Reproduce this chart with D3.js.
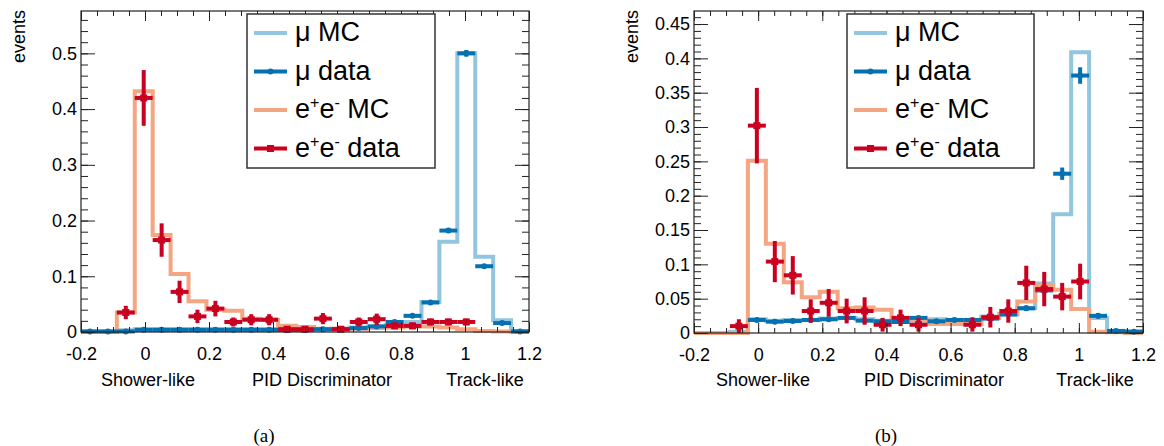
<!DOCTYPE html>
<html>
<head>
<meta charset="utf-8">
<script src="https://cdn.jsdelivr.net/npm/d3@7"></script>
<style>
  html, body { margin: 0; padding: 0; background: #fff; }
  svg { display: block; }
  text { font-family: "Liberation Sans", Arial, Helvetica, sans-serif; fill: #000; }
</style>
</head>
<body>
<svg id="chart" width="1164" height="446"></svg>
<script>
// PID discriminator bins (25 bins from -0.2 to 1.2)
const binEdges = [-0.2, -0.144, -0.088, -0.032, 0.024, 0.08, 0.136, 0.192, 0.248, 0.304,
  0.36, 0.416, 0.472, 0.528, 0.584, 0.64, 0.696, 0.752, 0.808, 0.864,
  0.92, 0.976, 1.032, 1.088, 1.144, 1.2];

const xTickValues = [-0.2, 0, 0.2, 0.4, 0.6, 0.8, 1, 1.2];
const xTickLabels = ["-0.2", "0", "0.2", "0.4", "0.6", "0.8", "1", "1.2"];

// Panel (a)
const muMC_a = [0.001, 0.001, 0.003, 0.005, 0.005, 0.005, 0.005, 0.005, 0.005, 0.005,
  0.005, 0.005, 0.005, 0.005, 0.006, 0.008, 0.010, 0.012, 0.018, 0.054,
  0.162, 0.500, 0.135, 0.021, 0.002];
const muData_a = [0.001, 0.001, 0.001, 0.004, 0.004, 0.004, 0.004, 0.004, 0.004, 0.004,
  0.004, 0.004, 0.004, 0.005, 0.005, 0.007, 0.010, 0.018, 0.029, 0.053,
  0.182, 0.500, 0.118, 0.016, 0.001];
const muErr_a = [0.001, 0.001, 0.001, 0.001, 0.001, 0.001, 0.001, 0.001, 0.001, 0.001,
  0.001, 0.001, 0.001, 0.001, 0.001, 0.001, 0.002, 0.002, 0.002, 0.003,
  0.004, 0.006, 0.003, 0.002, 0.001];
const eeMC_a = [0, 0, 0.035, 0.432, 0.174, 0.104, 0.055, 0.040, 0.038, 0.024,
  0.022, 0.011, 0.009, 0.006, 0.006, 0.006, 0.007, 0.008, 0.010, 0.010,
  0.008, 0.005, 0.002, 0.001, 0];
const eeData_a = [null, null, 0.035, 0.420, 0.165, 0.072, 0.028, 0.042, 0.018, 0.022,
  0.022, 0.005, 0.005, 0.024, 0.005, 0.018, 0.023, 0.011, 0.011, 0.018,
  0.018, 0.018, null, null, null];
const eeErr_a = [0, 0, 0.012, 0.050, 0.030, 0.020, 0.012, 0.014, 0.008, 0.010,
  0.010, 0.004, 0.004, 0.010, 0.004, 0.008, 0.010, 0.006, 0.006, 0.006,
  0.006, 0.006, 0, 0, 0];
const yTicks_a = [0, 0.1, 0.2, 0.3, 0.4, 0.5];
const yTickLabels_a = ["0", "0.1", "0.2", "0.3", "0.4", "0.5"];

// Panel (b)
const muMC_b = [0, 0, 0.002, 0.020, 0.018, 0.019, 0.019, 0.021, 0.022, 0.020,
  0.018, 0.018, 0.018, 0.020, 0.018, 0.019, 0.024, 0.027, 0.036, 0.072,
  0.173, 0.409, 0.022, 0.003, 0.002];
const muData_b = [null, null, null, 0.019, 0.0165, 0.0175, 0.019, 0.020, 0.022, 0.018,
  0.017, 0.016, 0.022, 0.017, 0.019, 0.019, 0.021, 0.027, 0.036, 0.062,
  0.232, 0.375, 0.025, 0.003, 0.002];
const muErr_b = [0, 0, 0, 0.003, 0.003, 0.003, 0.003, 0.003, 0.003, 0.003,
  0.003, 0.003, 0.003, 0.003, 0.003, 0.003, 0.003, 0.003, 0.004, 0.005,
  0.009, 0.012, 0.004, 0.001, 0.001];
const eeMC_b = [0, 0, 0, 0.251, 0.130, 0.074, 0.052, 0.060, 0.036, 0.037,
  0.034, 0.022, 0.019, 0.013, 0.013, 0.013, 0.022, 0.028, 0.046, 0.070,
  0.063, 0.035, 0.002, 0.001, 0];
const eeData_b = [null, null, 0.010, 0.302, 0.104, 0.084, 0.032, 0.044, 0.032, 0.032,
  0.012, 0.022, 0.012, null, null, 0.012, 0.023, 0.032, 0.073, 0.064,
  0.053, 0.075, null, null, null];
const eeErr_b = [0, 0, 0.010, 0.055, 0.030, 0.028, 0.017, 0.020, 0.018, 0.020,
  0.010, 0.012, 0.010, 0, 0, 0.010, 0.015, 0.017, 0.025, 0.025,
  0.020, 0.026, 0, 0, 0];
const yTicks_b = [0, 0.05, 0.1, 0.15, 0.2, 0.25, 0.3, 0.35, 0.4, 0.45];
const yTickLabels_b = ["0", "0.05", "0.1", "0.15", "0.2", "0.25", "0.3", "0.35", "0.4", "0.45"];

const colors = { muMC: "#92c5de", muData: "#0571b0", eeMC: "#f4a582", eeData: "#ca0020" };

const svg = d3.select("#chart");

function drawPanel(p) {
  const x = d3.scaleLinear().domain([-0.2, 1.2]).range([p.left, p.right]);
  const y = d3.scaleLinear().domain([0, p.yMax]).range([p.bottom, p.top]);
  const g = svg.append("g");

  // histogram outlines
  const step = d3.line().x(d => x(d[0])).y(d => y(d[1])).curve(d3.curveStepAfter);
  function hist(vals, color) {
    const pts = vals.map((v, i) => [binEdges[i], v]);
    pts.push([binEdges[binEdges.length - 1], vals[vals.length - 1]]);
    g.append("path").attr("d", step(pts)).attr("fill", "none")
      .attr("stroke", color).attr("stroke-width", 4).attr("stroke-linejoin", "miter");
  }
  function points(vals, errs, color, marker) {
    vals.forEach((v, i) => {
      if (v === null) return;
      const cx = x((binEdges[i] + binEdges[i + 1]) / 2);
      const gg = g.append("g");
      gg.append("line").attr("x1", x(binEdges[i])).attr("x2", x(binEdges[i + 1]))
        .attr("y1", y(v)).attr("y2", y(v)).attr("stroke", color).attr("stroke-width", 4);
      if (errs[i] > 0) {
        gg.append("line").attr("x1", cx).attr("x2", cx)
          .attr("y1", y(Math.max(0, v - errs[i]))).attr("y2", y(v + errs[i]))
          .attr("stroke", color).attr("stroke-width", 4);
      }
      if (marker === "circle") {
        gg.append("circle").attr("cx", cx).attr("cy", y(v)).attr("r", 3).attr("fill", color);
      } else {
        gg.append("rect").attr("x", cx - 3.5).attr("y", y(v) - 3.5)
          .attr("width", 7).attr("height", 7).attr("fill", color);
      }
    });
  }

  hist(p.muMC, colors.muMC);
  hist(p.eeMC, colors.eeMC);
  points(p.muData, p.muErr, colors.muData, "circle");
  points(p.eeData, p.eeErr, colors.eeData, "square");

  // axes: bottom/top with major + minor ticks, left/right likewise
  const xMinor = d3.range(-0.2, 1.2001, 0.05).map(v => +v.toFixed(3));
  const yMinor = d3.range(0, p.yMax, p.yMinorStep).map(v => +v.toFixed(4));

  const axes = g.append("g").attr("class", "axes");
  axes.append("g").attr("transform", `translate(0,${p.bottom})`)
    .call(d3.axisBottom(x).tickValues(xMinor).tickSize(-5).tickFormat(""));
  axes.append("g").attr("transform", `translate(0,${p.bottom})`)
    .call(d3.axisBottom(x).tickValues(xTickValues).tickSize(-10).tickPadding(15)
      .tickFormat((d, i) => xTickLabels[i]));
  axes.append("g").attr("transform", `translate(0,${p.top})`)
    .call(d3.axisTop(x).tickValues(xMinor).tickSize(-5).tickFormat(""));
  axes.append("g").attr("transform", `translate(0,${p.top})`)
    .call(d3.axisTop(x).tickValues(xTickValues).tickSize(-10).tickFormat(""));

  axes.append("g").attr("transform", `translate(${p.left},0)`)
    .call(d3.axisLeft(y).tickValues(yMinor).tickSize(-7).tickFormat(""));
  axes.append("g").attr("transform", `translate(${p.left},0)`)
    .call(d3.axisLeft(y).tickValues(p.yTicks).tickSize(-14).tickPadding(4)
      .tickFormat((d, i) => p.yTickLabels[i]));
  axes.append("g").attr("transform", `translate(${p.right},0)`)
    .call(d3.axisRight(y).tickValues(yMinor).tickSize(-7).tickFormat(""));
  axes.append("g").attr("transform", `translate(${p.right},0)`)
    .call(d3.axisRight(y).tickValues(p.yTicks).tickSize(-14).tickFormat(""));

  axes.selectAll(".domain").remove();
  axes.selectAll(".tick line").attr("stroke", "#222").attr("stroke-width", 1);
  axes.selectAll(".tick text").style("font-size", "18px")
    .style("font-family", '"Liberation Sans", Arial, sans-serif').attr("fill", "#000");

  // frame
  g.append("rect").attr("x", p.left).attr("y", p.top)
    .attr("width", p.right - p.left).attr("height", p.bottom - p.top)
    .attr("fill", "none").attr("stroke", "#222").attr("stroke-width", 1.2);

  // y title
  g.append("text").attr("transform", `translate(${p.yTitleX},${p.top - 1}) rotate(-90)`)
    .attr("text-anchor", "end").style("font-size", "18px").text("events");

  // x sub-titles
  const subY = 386;
  [["Shower-like", p.subX[0]], ["PID Discriminator", p.subX[1]], ["Track-like", p.subX[2]]]
    .forEach(([t, cx]) => {
      g.append("text").attr("x", cx).attr("y", subY).attr("text-anchor", "middle")
        .style("font-size", "18px").text(t);
    });

  // caption
  g.append("text").attr("x", p.captionX).attr("y", 442).attr("text-anchor", "middle")
    .style("font-family", '"Liberation Serif", "Times New Roman", serif')
    .style("font-size", "19px").text(p.caption);

  // legend
  const L = p.legend;
  const lg = g.append("g");
  lg.append("rect").attr("x", L.x).attr("y", L.y).attr("width", L.w).attr("height", L.h)
    .attr("fill", "#fff").attr("stroke", "#333").attr("stroke-width", 1.5);
  // each part: [text, superscript?]
  const entries = [
    { color: colors.muMC, marker: null, parts: [["μ MC", false]] },
    { color: colors.muData, marker: "circle", parts: [["μ data", false]] },
    { color: colors.eeMC, marker: null, parts: [["e", false], ["+", true], ["e", false], ["-", true], [" MC", false]] },
    { color: colors.eeData, marker: "square", parts: [["e", false], ["+", true], ["e", false], ["-", true], [" data", false]] }
  ];
  entries.forEach((e, i) => {
    const ly = L.y + 19 + i * 38.5;
    lg.append("line").attr("x1", L.x + 7).attr("x2", L.x + 40).attr("y1", ly).attr("y2", ly)
      .attr("stroke", e.color).attr("stroke-width", 4);
    if (e.marker === "circle") {
      lg.append("circle").attr("cx", L.x + 23.5).attr("cy", ly).attr("r", 3).attr("fill", e.color);
    } else if (e.marker === "square") {
      lg.append("rect").attr("x", L.x + 20).attr("y", ly - 3.5).attr("width", 7).attr("height", 7)
        .attr("fill", e.color);
    }
    const baseY = ly + 8;
    const t = lg.append("text").attr("x", L.x + 48).attr("y", baseY)
      .style("font-size", "27px");
    e.parts.forEach(([s, sup]) => {
      t.append("tspan").attr("y", sup ? baseY - 10 : baseY)
        .style("font-size", sup ? "16px" : "27px").text(s);
    });
  });
}

drawPanel({
  left: 81, right: 529, top: 11, bottom: 332, yMax: 0.576, yMinorStep: 0.02,
  yTicks: yTicks_a, yTickLabels: yTickLabels_a,
  muMC: muMC_a, muData: muData_a, muErr: muErr_a,
  eeMC: eeMC_a, eeData: eeData_a, eeErr: eeErr_a,
  yTitleX: 25, subX: [148, 322, 485], caption: "(a)", captionX: 264,
  legend: { x: 247, y: 14, w: 188, h: 154 }
});

drawPanel({
  left: 694, right: 1143, top: 11, bottom: 333, yMax: 0.469, yMinorStep: 0.01,
  yTicks: yTicks_b, yTickLabels: yTickLabels_b,
  muMC: muMC_b, muData: muData_b, muErr: muErr_b,
  eeMC: eeMC_b, eeData: eeData_b, eeErr: eeErr_b,
  yTitleX: 638, subX: [763, 934, 1095], caption: "(b)", captionX: 886,
  legend: { x: 847, y: 14, w: 187, h: 154 }
});
</script>
</body>
</html>
